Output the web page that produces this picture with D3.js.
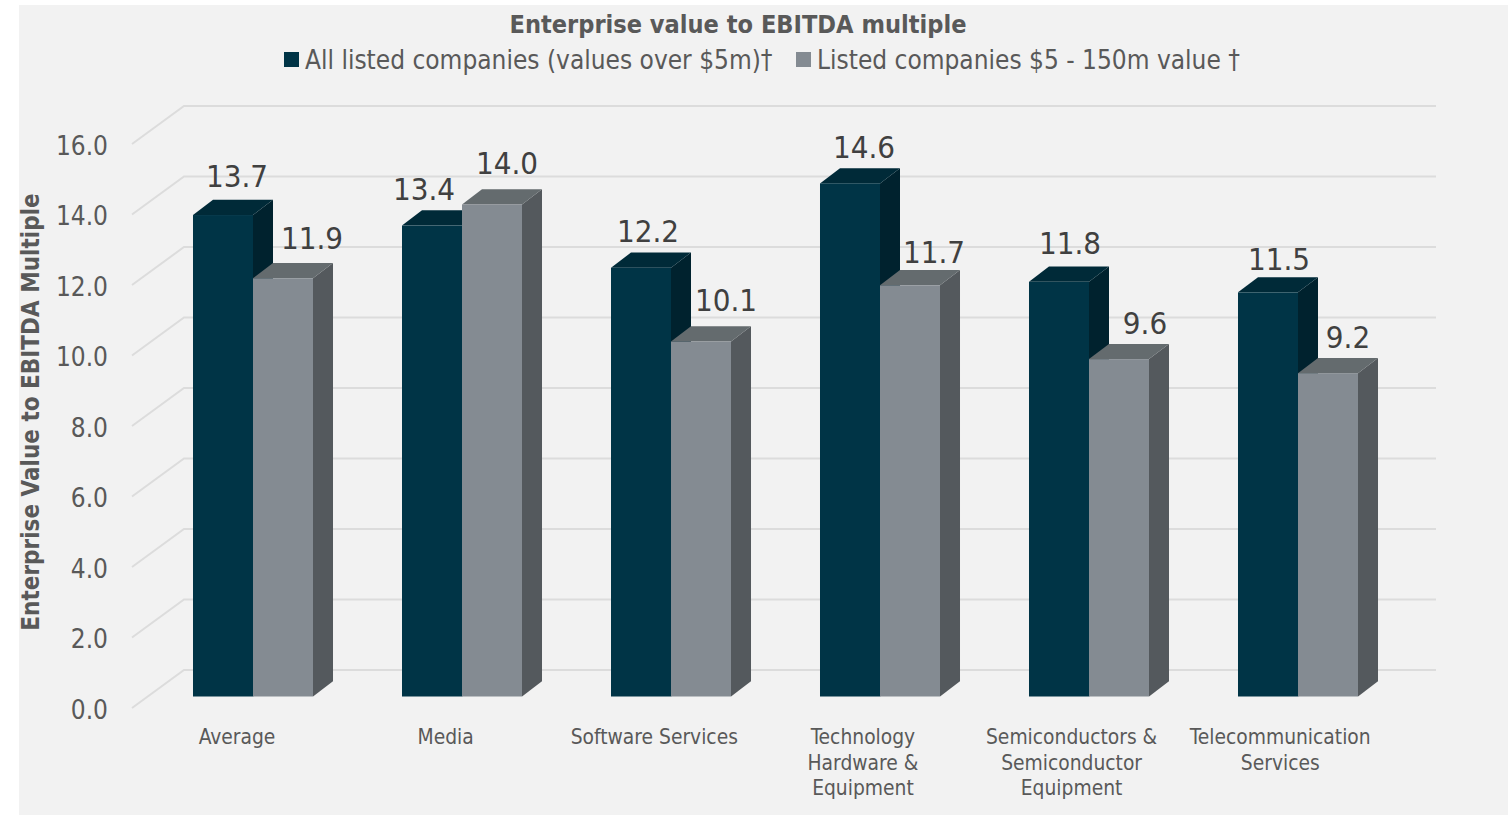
<!DOCTYPE html>
<html>
<head>
<meta charset="utf-8">
<script src="https://cdnjs.cloudflare.com/ajax/libs/d3/7.8.5/d3.min.js"></script>
<style>
  html, body { margin: 0; padding: 0; background: #fff; overflow: hidden; }
  svg { display: block; }
  text { font-family: "DejaVu Sans Condensed", "DejaVu Sans", sans-serif; font-stretch: condensed; }
</style>
</head>
<body>
<svg id="chart" width="1508" height="815"></svg>
<script>
// Chart content
const chartTitle = "Enterprise value to EBITDA multiple";
const yAxisTitle = "Enterprise Value to EBITDA Multiple";
const categories = ["Average", "Media", "Software Services", "Technology Hardware & Equipment", "Semiconductors & Semiconductor Equipment", "Telecommunication Services"];
const categoryLines = [["Average"], ["Media"], ["Software Services"], ["Technology", "Hardware &", "Equipment"], ["Semiconductors &", "Semiconductor", "Equipment"], ["Telecommunication", "Services"]];
const seriesNames = ["All listed companies (values over $5m)†", "Listed companies $5 - 150m value †"];
const allListed = [13.7, 13.4, 12.2, 14.6, 11.8, 11.5];
const smallListed = [11.9, 14.0, 10.1, 11.7, 9.6, 9.2];
const yTicks = [0, 2, 4, 6, 8, 10, 12, 14, 16];

// Bar faces for each series: front, top, side
const palette = [
  { front: "#003446", top: "#002a38", side: "#00222e" },
  { front: "#848b92", top: "#646b6e", side: "#54595d" }
];

// Value labels sit by hand around each bar: offset from the bar's left edge, and height above its top
const labelShift = [[44, 22, 37, 44, 41, 41], [59, 45, 55, 54, 56, 50]];
const labelRise = [[28, 26, 26, 25, 28, 22], [29, 30, 31, 22, 25, 25]];

// Extrusion of the bars and of the floor lines
const depth = { dx: 20, dy: -15.2 };
const wall = { left: 132, back: 184, right: 1436, front: 38 };

const svg = d3.select("#chart");
// The bars stand slightly nearer than the back wall, so the two use their own vertical scales
const y = d3.scaleLinear().domain([0, 16]).range([696.5, 134.2]);
const yWall = d3.scaleLinear().domain([0, 16]).range([670, 106]);
const x = d3.scaleBand().domain(categories).range([148.5, 1402.5]).paddingInner(0.4258).paddingOuter(0.2129);
const xSeries = d3.scaleBand().domain([0, 1]).range([0, x.bandwidth()]);

svg.append("rect").attr("x", 19).attr("y", 5).attr("width", 1489).attr("height", 810).attr("fill", "#f2f2f2");

// Back wall gridlines with their slanted run to the front of the floor
const grid = svg.append("g").attr("fill", "none").attr("stroke", "#dcdcdc").attr("stroke-width", 2);
grid.selectAll("path").data(yTicks).join("path")
  .attr("d", v => d3.line()([
    [wall.left, yWall(v) + wall.front],
    [wall.back, yWall(v)],
    [wall.right, yWall(v)]
  ]));

// Value axis, lined up with the front ends of the gridlines
const yAxis = svg.append("g")
  .attr("transform", `translate(108,${wall.front + 2})`)
  .call(d3.axisLeft(yWall).tickValues(yTicks).tickFormat(d3.format(".1f")).tickSize(0).tickPadding(0));
yAxis.select(".domain").remove();
yAxis.selectAll("text").attr("font-size", 26).attr("fill", "#595959")
  .style("font-family", '"DejaVu Sans Condensed", "DejaVu Sans", sans-serif');

// One extruded bar: side and top first, then the front face
function drawBars(values, s) {
  const g = svg.append("g");
  const w = xSeries.bandwidth();
  values.forEach((v, i) => {
    const x0 = x(categories[i]) + xSeries(s), x1 = x0 + w;
    const yt = y(v), yb = y(0);
    const b = g.append("g");
    b.append("path").attr("fill", palette[s].side)
      .attr("d", d3.line()([[x1, yb], [x1 + depth.dx, yb + depth.dy], [x1 + depth.dx, yt + depth.dy], [x1, yt]]) + "Z");
    b.append("path").attr("fill", palette[s].top)
      .attr("d", d3.line()([[x0, yt], [x0 + depth.dx, yt + depth.dy], [x1 + depth.dx, yt + depth.dy], [x1, yt]]) + "Z");
    b.append("rect").attr("x", x0).attr("y", yt).attr("width", w).attr("height", yb - yt).attr("fill", palette[s].front);
  });
}
drawBars(allListed, 0);
drawBars(smallListed, 1);

// Value labels
[allListed, smallListed].forEach((values, s) => {
  svg.append("g").selectAll("text").data(values).join("text")
    .attr("x", (v, i) => x(categories[i]) + xSeries(s) + labelShift[s][i])
    .attr("y", (v, i) => y(v) - labelRise[s][i])
    .attr("text-anchor", "middle").attr("font-size", 31).attr("fill", "#404040")
    .text(d3.format(".1f"));
});

// Category labels, wrapped over up to three lines
const cat = svg.append("g").selectAll("text").data(categories).join("text")
  .attr("text-anchor", "middle").attr("font-size", 20.8).attr("fill", "#595959");
cat.each(function (c, i) {
  const cx = x(c) + x.bandwidth() / 2 - 16 - i * 0.35;
  d3.select(this).selectAll("tspan").data(categoryLines[i]).join("tspan")
    .attr("x", cx).attr("y", (l, k) => 744 + k * 25.5).text(l => l);
});

// Title and legend
svg.append("text").attr("x", 738).attr("y", 33).attr("text-anchor", "middle")
  .attr("font-size", 25.1).attr("font-weight", "bold").attr("fill", "#595959").text(chartTitle);

const legendX = [284, 796];
const legend = svg.append("g").selectAll("g").data(seriesNames).join("g")
  .attr("transform", (d, i) => `translate(${legendX[i]},0)`);
legend.append("rect").attr("y", 52).attr("width", 15).attr("height", 15).attr("fill", (d, i) => palette[i].front);
legend.append("text").attr("x", 21).attr("y", 69).attr("font-size", 26).attr("fill", "#595959").text(d => d);

// Value axis title
svg.append("text").attr("transform", "translate(39,412) rotate(-90)").attr("text-anchor", "middle")
  .attr("font-size", 24).attr("font-weight", "bold").attr("fill", "#595959").text(yAxisTitle);
</script>
</body>
</html>
